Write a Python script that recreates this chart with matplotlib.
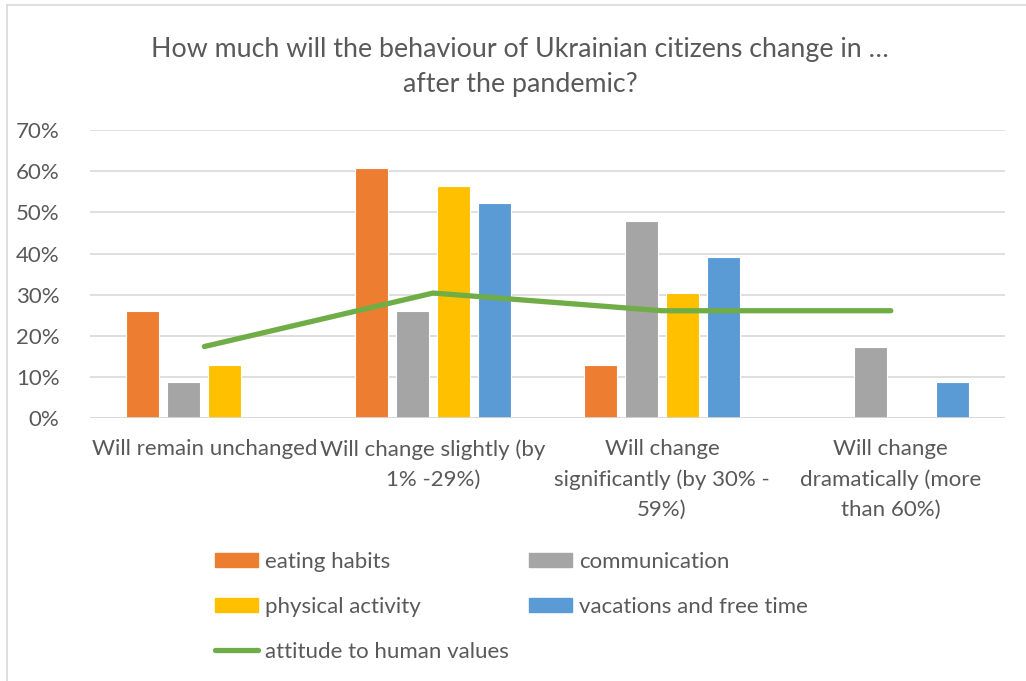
import matplotlib.pyplot as plt
from matplotlib.patches import Patch
from matplotlib.lines import Line2D
import numpy as np

# ===== data (percent) =====
categories = ["Will remain unchanged",
              "Will change slightly (by\n1% -29%)",
              "Will change\nsignificantly (by 30% -\n59%)",
              "Will change\ndramatically (more\nthan 60%)"]
eating = [26.1, 60.9, 13.0, 0.0]
communication = [8.7, 26.1, 47.8, 17.4]
physical = [13.0, 56.5, 30.4, 0.0]
vacations = [0.0, 52.2, 39.1, 8.7]
human_values = [17.4, 30.4, 26.1, 26.1]

series = [("eating habits", eating, "#ED7D31"),
          ("communication", communication, "#A5A5A5"),
          ("physical activity", physical, "#FFC000"),
          ("vacations and free time", vacations, "#5B9BD5")]
LINE_COLOR = "#70AD47"
TXT = "#595959"

plt.rcParams["font.family"] = ["Lato", "DejaVu Sans"]

fig = plt.figure(figsize=(10.26, 6.81), dpi=100)
ax = fig.add_axes([0.0877, 0.386, 0.892, 0.423])

x = np.arange(len(categories))
step, width = 0.179, 0.144
for i, (name, vals, col) in enumerate(series):
    ax.bar(x + (i - 1.5) * step, vals, width=width, color=col,
           edgecolor="white", linewidth=0.8, zorder=2)
ax.plot(x, human_values, color=LINE_COLOR, linewidth=3.8,
        solid_capstyle="round", solid_joinstyle="round", zorder=3)

ax.set_xlim(-0.5, 3.5)
ax.set_ylim(0, 70)
ax.set_yticks(np.arange(0, 71, 10))
ax.set_yticklabels([f"{v}%" for v in range(0, 71, 10)])
ax.grid(axis="y", color="#D9D9D9", linewidth=1.2, zorder=0)
ax.set_axisbelow(True)
ax.axhline(0, color="#D9D9D9", linewidth=1.2, zorder=4)
for s in ax.spines.values():
    s.set_visible(False)
ax.tick_params(axis="both", length=0, colors=TXT, labelsize=16)
ax.tick_params(axis="y", pad=22)
ax.tick_params(axis="x", pad=15)
ax.set_xticks(x)
ax.set_xticklabels(categories, linespacing=1.62)

fig.text(0.507, 0.902, "How much will the behaviour of Ukrainian citizens change in …\nafter the pandemic?",
         ha="center", va="center", fontsize=19.3, color=TXT, linespacing=1.5)

handles = [Patch(color="#ED7D31"), Patch(color="#FFC000"),
           Line2D([0], [0], color=LINE_COLOR, linewidth=3.8, solid_capstyle="round"),
           Patch(color="#A5A5A5"), Patch(color="#5B9BD5")]
labels = ["eating habits", "physical activity", "attitude to human values",
          "communication", "vacations and free time"]
fig.legend(handles, labels, ncol=2, loc="upper left", bbox_to_anchor=(0.201, 0.203),
           frameon=False, fontsize=16, labelcolor=TXT, handlelength=1.95,
           handleheight=0.62, handletextpad=0.3, columnspacing=0.9, labelspacing=1.13,
           borderaxespad=0)

# light chart border
fig.add_artist(Line2D([0.007, 0.007], [0, 0.993], transform=fig.transFigure, color="#D9D9D9", linewidth=1.2))
fig.add_artist(Line2D([0.007, 1], [0.993, 0.993], transform=fig.transFigure, color="#D9D9D9", linewidth=1.2))

fig.savefig("out.png", facecolor="white")
